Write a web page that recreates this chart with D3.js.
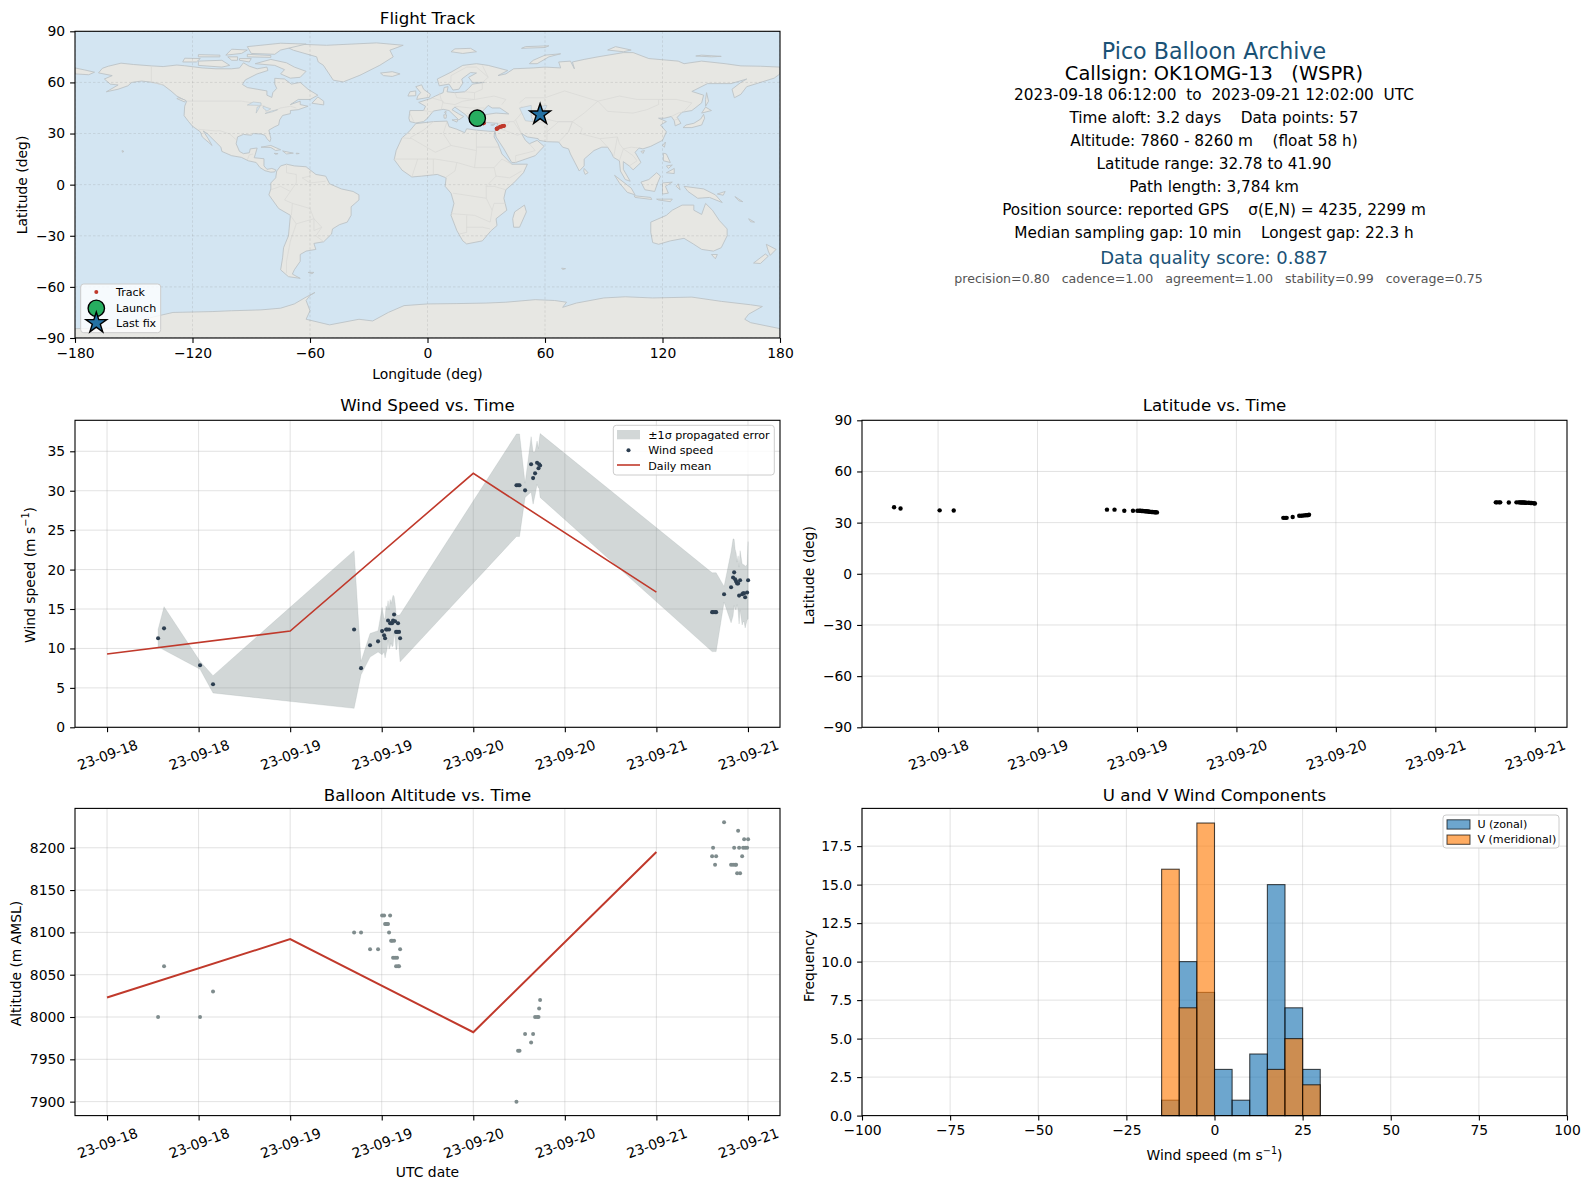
<!DOCTYPE html>
<html><head><meta charset="utf-8">
<script src="https://cdn.jsdelivr.net/npm/d3@7"></script>
<style>
html,body{margin:0;padding:0;background:#fff}
svg{display:block}
text{font-family:"DejaVu Sans",sans-serif;fill:#000;white-space:pre}
</style></head><body><svg id="c" width="1590" height="1189"></svg>
<script>
// ---------- data ----------
const hoursSinceStart=[6.69,7.47,12.19,13.89,
32.38,33.29,34.47,35.52,36.05,36.31,36.44,36.57,36.70,36.83,36.96,37.10,37.23,37.36,37.49,37.62,37.75,37.88,38.01,38.14,38.27,38.41,
53.66,53.87,54.06,54.79,55.58,55.84,56.10,56.36,56.55,56.63,56.76,
79.30,79.43,79.69,79.83,80.87,81.79,82.05,82.19,82.32,82.45,82.58,82.71,82.84,82.97,83.24,83.37,83.50,83.63,83.89,84.02];
const windSpeed=[11.3,12.55,7.86,5.45,
12.4,7.5,10.4,10.9,12.2,11.67,11.3,12.4,12.4,13.55,12.4,13.2,13.2,13.2,13.55,14.3,13.45,12.1,12.1,13.2,12.1,11.3,
30.7,30.7,30.7,30.05,33.35,31.6,32.2,33.55,32.85,33.35,33.2,
14.6,14.6,14.6,14.6,16.87,17.75,19.0,19.65,18.77,18.5,18.25,18.25,16.7,18.65,16.87,17.0,17.0,16.5,17.1,18.65];
const windSigma=[1.1,2.75,0.5,1.1,
10.0,0.85,1.5,1.35,3.0,2.1,2.5,3.0,2.5,2.5,2.5,3.0,2.5,3.0,3.2,2.3,2.3,2.3,2.1,1.0,2.1,3.0,
6.5,6.5,6.5,0.9,3.5,3.3,2.75,2.75,2.5,3.0,4.05,
5.0,5.0,5.0,5.0,1.0,4.5,4.9,4.2,3.8,3.6,2.7,3.5,3.6,3.75,3.9,3.6,3.6,3.9,3.5,4.9];
const altitude=[8000,8060,8000,8030,
8100,8100,8080,8080,8120,8120,8110,8110,8110,8110,8100,8120,8090,8090,8070,8090,8070,8060,8070,8060,8060,8080,
7900,7960,7960,7980,7970,7980,8000,8000,8000,8010,8020,
8190,8200,8180,8190,8230,8180,8180,8200,8180,8180,8170,8220,8200,8170,8190,8200,8210,8200,8200,8210];
const latitude=[39.0,38.3,37.2,37.1,
37.6,37.6,37.0,37.0,37.0,36.95,36.9,36.85,36.8,36.75,36.7,36.65,36.6,36.5,36.4,36.3,36.25,36.2,36.15,36.1,36.05,36.0,
32.8,32.8,32.8,33.3,34.0,34.0,34.2,34.3,34.4,34.4,34.6,
41.9,41.9,41.9,41.9,41.8,41.9,41.9,41.9,41.8,41.8,41.8,41.8,41.7,41.7,41.7,41.6,41.5,41.5,41.4,41.2];
const longitude=[25.4,25.6,25.8,26.0,
26.2,26.4,26.5,26.6,26.8,26.9,27.0,27.2,27.3,27.4,27.6,27.7,27.8,27.9,28.0,28.1,28.2,28.3,28.4,28.5,28.6,28.7,
35.3,35.4,35.5,36.0,37.0,37.4,37.8,38.2,38.5,38.8,39.1,
55.0,55.1,55.2,55.3,55.5,55.7,55.8,55.9,56.0,56.1,56.2,56.3,56.4,56.5,56.7,56.8,56.9,57.0,57.2,57.5];
const dailyHours=[0,24,48,72];
const dailyWind=[9.3,12.2,32.2,17.15];
const dailyAlt=[8023,8092,7982,8195];
const histEdges=[-15,-10,-5,0,5,10,15,20,25,30];
const uCounts=[1,10,8,3,1,4,15,7,3];
const vCounts=[16,7,19,0,0,0,3,5,2];
const lonTicks=[-180,-120,-60,0,60,120,180];
const latTicks=[-90,-60,-30,0,30,60,90];
const windTicks=[0,5,10,15,20,25,30,35];
const altTicks=[7900,7950,8000,8050,8100,8150,8200];
const histYTicks=[0,2.5,5,7.5,10,12.5,15,17.5];
const histXTicks=[-100,-75,-50,-25,0,25,50,75,100];
const dateTickHours=[0,12,24,36,48,60,72,84];
const infoLines=[
 ["Pico Balloon Archive",51,22.2,"#1a5276"],
 ["Callsign: OK1OMG-13   (WSPR)",73.5,19.4,"#000"],
 ["2023-09-18 06:12:00  to  2023-09-21 12:02:00  UTC",94.5,15.3,"#000"],
 ["Time aloft: 3.2 days    Data points: 57",118,15.3,"#000"],
 ["Altitude: 7860 - 8260 m    (float 58 h)",141,15.3,"#000"],
 ["Latitude range: 32.78 to 41.90",163.5,15.3,"#000"],
 ["Path length: 3,784 km",186.5,15.3,"#000"],
 ["Position source: reported GPS    σ(E,N) = 4235, 2299 m",209.5,15.3,"#000"],
 ["Median sampling gap: 10 min    Longest gap: 22.3 h",232.5,15.3,"#000"],
 ["Data quality score: 0.887",257.5,18,"#1a5276"],
 ["precision=0.80   cadence=1.00   agreement=1.00   stability=0.99   coverage=0.75",278,12.6,"#555"]
];
// Hand-approximated coastlines (lon,lat)
const landPolygons=[
[[-168,65.6],[-166,68.3],[-163,69.5],[-156.5,71.3],[-150,70.5],[-141,69.7],[-135,69.3],[-128,70.2],[-124,69.8],[-115,68.5],[-108,68],[-100,68],[-96,68.5],[-94,71.5],[-91,69.5],[-87,68],[-82,69],[-81.5,67],[-87,65],[-93,61.5],[-94.5,58.8],[-92,57],[-87,56],[-82,55],[-82,52.5],[-79.5,51.2],[-79,54],[-77,56.5],[-78,59],[-78,62.4],[-73,62],[-69.5,59],[-65,60],[-61,56],[-56,52.5],[-60,50],[-66,50],[-70,47],[-65,49],[-65,47],[-61,46],[-66,44],[-70,43.5],[-70,41.7],[-74,40.6],[-75.5,38],[-76,35],[-78,34],[-81,32],[-80,27],[-80.5,25.2],[-82,27],[-83,29],[-85,29.7],[-89,30],[-90,29],[-94,29.5],[-97,28],[-97.7,24],[-96,19.5],[-94,18.2],[-91,18.7],[-90.5,21],[-87,21.5],[-88,17.5],[-88.5,15.8],[-83.5,15.2],[-83.5,11],[-82,9],[-79.5,9.5],[-77.5,8.7],[-78,7.5],[-80,7.3],[-83,8.2],[-85.5,10],[-87.5,13],[-91.5,14],[-95,16],[-100,17],[-105,19.5],[-105.5,22],[-109,26],[-112.5,30],[-114.5,31.5],[-112,27],[-110,23],[-112,25],[-115,28],[-116,31],[-120,34.3],[-122,37],[-124.3,40.5],[-124,46],[-123,49],[-128,52],[-131,55],[-135,58.5],[-140,60],[-146,60.8],[-151,60],[-153,58],[-158,56],[-164,54.5],[-158,58.5],[-162,59],[-165,62],[-161,64],[-168,65.6]],
[[-71.9,80.8],[-65.1,82.4],[-51.5,81.8],[-26,83.2],[-12.4,81.8],[-19.2,78.9],[-17.5,75],[-24.3,70.1],[-34.5,64.2],[-43,60.3],[-48.1,61.3],[-53.2,70.1],[-55.8,72],[-56.6,75],[-68.5,78.9]],
[[-80,73.5],[-72,71.5],[-68,69],[-62,66.5],[-65,63],[-70,62.5],[-75,65],[-73,67.5],[-78,70],[-88,71],[-80,73.5]],
[[-117,70],[-105,69],[-101,70],[-105,73],[-117,72.5],[-117,70]],
[[-125,72],[-118,72],[-116,74],[-124,74.2]],
[[-90,77],[-78,76.5],[-75,79],[-62,82.5],[-75,83],[-92,81],[-90,77]],
[[-92,75],[-80,74.7],[-80,75.8],[-92,76.5]],
[[-117,75],[-106,75],[-106,76],[-117,76.3]],
[[-96,73],[-91,72],[-90,74],[-96,74]],
[[-100,73],[-97,73],[-97,75],[-102,75]],
[[-103,76],[-95,77],[-92,79],[-100,79.5]],
[[-59,47.8],[-53,46.8],[-53,49],[-56,51.5],[-59,47.8]],
[[-128,50.5],[-124,48.5],[-123.5,49.5],[-127,51]],
[[-85,22],[-80,23],[-75,20.5],[-77.5,20],[-80,21.8],[-85,22]],
[[-74,19.8],[-68.5,18.5],[-72,18],[-74,19.8]],
[[-67,18.5],[-65.5,18.3],[-67,18]],
[[-78.3,18.4],[-76.3,18.2],[-77.5,17.8]],
[[-156,20],[-155,19.5],[-155.8,19]],
[[-180,68.5],[-175,67.3],[-170,66],[-173,64.5],[-180,65]],
[[-77,8],[-75,11],[-72,12],[-68,11],[-62,10.5],[-57,6],[-52,5],[-50,0.5],[-44,-2.5],[-38,-4],[-35,-6],[-35,-9],[-39,-13],[-39,-18],[-41,-22],[-45,-23.5],[-48.5,-26],[-49,-29],[-53,-33.5],[-58,-34.5],[-57,-38],[-62,-39],[-65,-41],[-65,-45],[-68,-50],[-69,-52.5],[-65,-55],[-71,-54],[-75,-50],[-74,-43],[-73.5,-37],[-71,-30],[-70,-18],[-76,-14],[-81,-6],[-80,-2.5],[-80,1],[-77.5,4],[-77,8]],
[[-61,-51.5],[-58,-51.5],[-59,-52.3]],
[[-6,35.8],[3,37],[10,37.3],[11,34],[15,32.5],[19,30.5],[20,32.8],[25,32],[32,31.3],[34.3,31.3],[34,28],[36,24],[38,18],[43,12],[51,12],[49,7],[44,1],[40,-3],[39,-8],[40.5,-15],[35,-20],[35.5,-24],[32.5,-27],[28,-33],[20,-34.8],[18,-33],[15,-27],[12,-18],[13.5,-11],[12,-5],[9,-1],[9.5,4],[5,6],[-3,5],[-8,4.5],[-13,8.5],[-17,14.7],[-16,20],[-13,27.5],[-9.5,31],[-6,35.8]],
[[49.5,-12],[50.5,-16],[47,-25],[44,-25],[43.5,-20],[44.5,-16],[49.5,-12]],
[[-9,37],[-9.5,39],[-9,43.5],[-2,43.5],[-1,46],[-4.5,48.3],[1.5,50.5],[4,52],[8,54],[8.5,57],[10.5,57.5],[10,54.5],[14,54],[19,54.5],[21,56.5],[23,59],[29,60],[23,60],[21,63],[25,65.5],[22,65.8],[17.5,62],[18,59.5],[16,56],[13,55.5],[11,59],[6,58],[5,62],[12,66],[18,70],[25,71],[31,70],[41,67],[36,64],[40,65],[44,68],[54,68.5],[60,69],[68,68.5],[67,72],[73,72.5],[75,68],[74,72],[80,73.5],[87,75],[100,77.5],[105,77.5],[113,74],[128,72.5],[131,71],[140,72.5],[152,71],[160,69.7],[170,69.5],[180,69],[180,65],[177,62.5],[170,60],[163,57.5],[160,53],[156.7,51],[155.5,56],[160,60],[163,62],[155,59.3],[143,59.3],[135,54.7],[141,52.5],[140,48],[135,43.5],[130,42.5],[127.5,39.5],[129.4,36],[126.5,34.5],[126,37.5],[124.5,40],[121,39],[118,39],[122,37],[119,35],[122,31],[120,26],[114,22.5],[110,21],[108,21.5],[106,19],[109,13],[105,8.7],[103,11],[100,13.5],[100,9],[103.5,2],[101,3],[98.5,8],[98,14],[95,16],[94,18.5],[92,22],[89,22],[85,20],[80,15],[80,11],[77.5,8],[73,18],[72,21],[69,22],[67,25],[61,25.2],[57,26],[56.5,27],[51,28],[48,30],[50,26],[52,24],[56,26],[59.5,22.5],[55,17],[45,13],[43,13],[39,21],[35,28],[34.5,31.5],[36,36],[30,36.5],[27,37],[26.5,40],[29,41],[35,42],[41.5,41.5],[37,45],[33,45],[31,46.5],[28,43],[26,40.8],[23,40.5],[24,38],[22.5,36.6],[19.5,41],[14,45.5],[12.5,44],[16,41.5],[18.5,40],[16,38],[11,43.5],[8,44.2],[3,43.2],[0,39],[-2,37],[-6,36.2],[-9,37]],
[[-5.5,50],[1,51.3],[1.5,53],[-2,56],[-3,58.6],[-6,57.5],[-3.5,54],[-5,52],[-5.5,50]],
[[-10,52],[-6,52.2],[-6,55],[-9,54.5]],
[[-24,65.5],[-18,66.3],[-14,65],[-18,63.5],[-22.5,64]],
[[12,78],[18,77],[25,78],[22,80],[14,79.7]],
[[52,71],[56,71],[62,75],[68,76.8],[60,76],[54,73]],
[[48,80],[60,80.5],[62,81.5],[50,81]],
[[92,79],[100,78],[104,79],[96,81]],
[[137,75.5],[145,75],[150,75.3],[140,76]],
[[130.5,33.5],[135,33.5],[140,35],[141.5,39],[141,41.3],[139.5,38.5],[136,36],[132,35],[130.5,33.5]],
[[140,42],[145,43.5],[142,45.5]],
[[142,46],[143.5,49],[142.5,54],[142,50]],
[[120,23],[121.5,25],[121,22]],[[109,19.5],[110.8,20],[110,18.3]],
[[80,9.5],[82,7],[80.5,6],[79.8,8]],
[[95.5,5.5],[104,-2],[106,-6],[102,-4.5],[98,1]],
[[105.5,-6.5],[114,-7.5],[114.5,-8.7],[106,-7.5]],
[[109,1.5],[113,3],[117,7],[119,5],[117.5,1],[116,-4],[111,-3],[109,1.5]],
[[120,-5.5],[120,1],[125,1.5],[121.5,-1],[123,-5]],
[[120.5,18.5],[122,18],[124,13],[120.5,14]],
[[122,7],[126,9.5],[126,6.5]],[[122,11],[125,11.5],[123,9.5]],
[[131,-1],[141,-2.5],[147,-6],[150.5,-10.5],[144,-7.5],[138,-8],[133,-4],[131,-1]],
[[148,-5.5],[152,-4],[151,-6.2]],[[157,-7],[161,-10],[159,-9.5]],
[[127,-1],[129,-3],[128,0.5]],[[117,-8.5],[125,-8.5],[124,-10],[118,-9]],
[[114,-22],[122,-18],[125,-15],[130,-12],[136,-12],[136,-15],[140,-17.5],[142,-11],[145.5,-15],[149,-21],[153,-26],[153,-30],[150,-37],[146,-39],[140,-38],[136,-35],[131,-31.5],[124,-33],[118,-35],[115,-34],[114,-28],[114,-22]],
[[145,-41],[148,-41],[147,-43.5]],
[[173,-35],[178,-38],[175,-41.5],[174,-39]],
[[172.5,-40.7],[174,-42],[170,-46.3],[166.5,-46]],
[[164,-20],[167,-22],[165,-21.8]],[[68.5,-49],[70.5,-49.3],[69,-49.8]],
[[12.5,38],[15.5,38.2],[15,36.7]],[[8.3,41],[9.7,41],[9.5,39],[8.5,39]],[[8.7,42.6],[9.5,43],[9.3,41.5]],
[[23.5,35.5],[26.3,35.2],[24,35]],[[32.3,35],[34.5,35.6],[33.5,34.7]],
[[-180,-84.5],[-150,-84],[-145,-79],[-130,-75],[-110,-74.5],[-100,-74],[-85,-73.5],[-75,-72.5],[-68,-70],[-62,-66],[-57.5,-63.3],[-60,-65],[-62,-68],[-60,-74],[-62,-79],[-50,-82.3],[-35,-79],[-28,-80],[-20,-75],[-12,-71],[0,-70],[15,-69.8],[30,-69.5],[40,-69],[55,-67.5],[65,-68],[71,-69],[69,-72],[76,-69.5],[90,-66.5],[101,-65.8],[115,-66.5],[135,-66],[150,-68.5],[165,-70.5],[171,-71.5],[164,-76],[162,-79],[165,-81],[180,-84.5],[180,-90],[-180,-90]]
];
const inlandWater=[
[[47,45],[53,46.5],[53,40],[54,37],[50,37.5],[49,40],[47,45]],
[[-92,46.7],[-85,46.5],[-85,48],[-89,48.5]],[[-87.5,42],[-85.5,46],[-87,45.5]],[[-84,46],[-80,44.5],[-82,43.2],[-84,45]],
[[-83,41.7],[-79,42.8],[-76.5,44],[-79.5,43.3]],[[58,46],[61,46.5],[60,44],[58,44.5]]
];
const borderLines=[
[[-123,49],[-95,49],[-89,48],[-83,46],[-82.5,42.5],[-79,43],[-75,45],[-70,46],[-67,45]],
[[-141,69.7],[-141,60],[-135,58.5]],
[[-117,32.5],[-108,31.5],[-106,31.7],[-101,29.7],[-97.3,26]],
[[-92,14.5],[-91,17.5],[-89,18]],
[[-72,12],[-72,7],[-67,6],[-67,1],[-70,-4]],[[-60,8],[-60,5],[-64,4],[-60,1],[-52,2]],
[[-80,-3],[-75,-1],[-70,-4],[-73,-9],[-69,-11],[-69.5,-18]],
[[-69,-11],[-60,-14],[-58,-20],[-54,-25],[-57,-30],[-53,-33.5]],
[[-70,-18],[-67,-23],[-70,-33],[-72,-45],[-72,-52]],[[-67,-23],[-58,-20]],[[-58,-20],[-58,-27],[-54,-25]],
[[-9,27.5],[-2,32],[3,37]],[[-13,27.5],[-8,27],[-5,25],[4,19],[12,23],[25,20],[25,32]],[[10,37],[8,30],[12,23]],
[[25,22],[37,22]],[[25,20],[24,10],[15,13],[14,8],[9,4]],[[-17,15],[-5,15],[4,15],[15,13]],[[24,10],[34,10],[35,5],[42,4],[48,8]],
[[-8,4.5],[-5,15]],[[3,6],[3,15]],[[34,10],[38,15],[43,12]],[[13,-5],[30,-8],[30,-1],[35,5]],[[40,-3],[34,-1],[30,-1]],
[[12,-17],[24,-18],[32,-22],[33,-15],[30,-8]],[[40,-11],[34,-11],[33,-15]],[[20,-18],[20,-28],[16,-29]],[[20,-25],[28,-25],[32,-26]],
[[-2,43.5],[3,42.5]],[[-9,42],[-7,37]],[[2,51],[8,49],[7,44]],[[6,54],[7,50],[8,48],[14,47],[18,49],[24,50],[24,54],[19,54.5]],
[[14,54],[15,51],[24,50]],[[24,54],[28,56],[28,60]],[[24,50],[34,52],[40,50],[38,47]],[[14,46],[22,45],[29,45]],[[26,41],[22,41],[20,42]],
[[12,60],[12,64],[20,69],[25,69],[31,63],[28,60]],[[28,70],[31,63]],
[[48,42],[45,38],[44,37],[42,37],[36,36]],[[42,37],[39,32],[36,33]],[[39,32],[46,29],[48,30]],[[45,38],[48,30]],
[[44,37],[48,30]],[[52,24],[55,20],[52,19],[45,17],[45,13]],
[[61,25.2],[61,31],[61,36],[54,37]],[[61,31],[67,37],[74,37],[72,31],[67,25]],[[72,31],[74,37],[79,33],[78,30],[88,27],[97,28],[95,16]],[[88,27],[92,22]],[[97,28],[98,24],[100,21],[104,22],[108,21.5]],
[[100,21],[105,17],[107,14],[103,11]],[[100,21],[98,14]],
[[48,46],[52,41],[66,37],[74,37],[80,42],[87,49],[70,55],[60,51],[50,51],[47,48]],
[[87,49],[98,52],[107,50],[118,50],[127,50],[135,48],[131,43]],[[87,49],[92,43],[105,42],[112,44],[118,47],[118,50]],[[124.5,40],[128,42],[130,42.5]],[[126,38],[128.5,38.5]]
];
// ---------- helpers ----------
const svg=d3.select("#c");
const X1=75,X2=780,X3=862,X4=1567;
const Y1=31.3,Y2=338,Y3=420.3,Y4=727.3,Y5=808.4,Y6=1115.6;
const gridCol="#b0b0b0",F=13.9;
const t=h=>new Date(Date.UTC(2023,8,18)+h*3600e3);
function ax(x0,x1,y0,y1,xs,ys,xt,yt,xf,yf,dateAxis,id,grid=true){
  const g=svg.append("g").attr("id",id);
  if(grid){
    const gr=g.append("g").attr("class","grid").attr("fill","none").attr("stroke",gridCol).attr("stroke-opacity",.36).attr("stroke-width",1);
    gr.selectAll(".v").data(xt).join("line").attr("x1",xs).attr("x2",xs).attr("y1",y0).attr("y2",y1);
    gr.selectAll(".h").data(yt).join("line").attr("y1",ys).attr("y2",ys).attr("x1",x0).attr("x2",x1);
  }
  const marks=g.append("g");
  g.finish=function(){
    const ga=g.append("g").attr("transform",`translate(0,${y1})`).call(d3.axisBottom(xs).tickValues(xt).tickFormat(xf).tickSizeOuter(0).tickSize(4.9).tickPadding(4.9));
    const gb=g.append("g").attr("transform",`translate(${x0},0)`).call(d3.axisLeft(ys).tickValues(yt).tickFormat(yf).tickSizeOuter(0).tickSize(4.9).tickPadding(4.9));
    [ga,gb].forEach(a=>{a.select(".domain").remove();a.selectAll("line").attr("stroke","#000").attr("stroke-width",1.1);
      a.selectAll("text").attr("font-size",F).attr("font-family",'"DejaVu Sans"').attr("fill","#000");});
    if(dateAxis) ga.selectAll("text").attr("text-anchor","middle").attr("dy",null).attr("y",0).attr("dominant-baseline","central").attr("transform","translate(0,27.5) rotate(-20)");
    g.append("rect").attr("x",x0).attr("y",y0).attr("width",x1-x0).attr("height",y1-y0).attr("fill","none").attr("stroke","#000").attr("stroke-width",1.1);
  };
  g.marks=marks;
  return g;
}
function title(s,x,y){svg.append("text").attr("x",x).attr("y",y).attr("text-anchor","middle").attr("dominant-baseline","central").attr("font-size",16.67).text(s);}
function xlabel(s,x,y,sup){const e=svg.append("text").attr("x",x).attr("y",y).attr("text-anchor","middle").attr("dominant-baseline","central").attr("font-size",F);fill(e,s,sup);}
function ylabel(s,x,y,sup){const e=svg.append("text").attr("transform",`translate(${x},${y}) rotate(-90)`).attr("text-anchor","middle").attr("dominant-baseline","central").attr("font-size",F);fill(e,s,sup);}
function fill(e,s,sup){ if(!sup){e.text(s);return;}
  e.append("tspan").text(s);
  e.append("tspan").attr("dy",-5).attr("font-size",F*.7).text("−1");
  e.append("tspan").attr("dy",5).text(")");
}
function legendBox(x,y,w,h){svg.append("rect").attr("x",x).attr("y",y).attr("width",w).attr("height",h).attr("rx",3).attr("fill","#fff").attr("fill-opacity",.8).attr("stroke","#ccc").attr("stroke-width",1);}
function legText(s,x,y,fs=11.1){svg.append("text").attr("x",x).attr("y",y).attr("dominant-baseline","central").attr("font-size",fs).text(s);}
const fmtDate=d3.utcFormat("%y-%m-%d");
const dateTicks=dateTickHours.map(t);

// ---------- map ----------
const lonS=d3.scaleLinear().domain([-180,180]).range([X1,X2]);
const latS=d3.scaleLinear().domain([-90,90]).range([Y2,Y1]);
const m=ax(X1,X2,Y1,Y2,lonS,latS,lonTicks,latTicks,d3.format("d"),d3.format("d"),false,"map",false);
svg.append("defs").append("clipPath").attr("id","mapclip").append("rect").attr("x",X1).attr("y",Y1).attr("width",X2-X1).attr("height",Y2-Y1);
const mg=m.marks.attr("clip-path","url(#mapclip)");
mg.append("rect").attr("x",X1).attr("y",Y1).attr("width",X2-X1).attr("height",Y2-Y1).attr("fill","#d3e5f2");
const geoStraight=d3.line().x(d=>lonS(d[0])).y(d=>latS(d[1]));
mg.append("g").selectAll("path").data(landPolygons).join("path").attr("d",d=>geoStraight(d)+"Z").attr("fill","#e7e7e3").attr("stroke","#bcc3c6").attr("stroke-width",.9).attr("stroke-linejoin","round");
mg.append("g").selectAll("path").data(borderLines).join("path").attr("d",geoStraight).attr("fill","none").attr("stroke","#d8d8d6").attr("stroke-width",.7);
mg.append("g").selectAll("path").data(inlandWater).join("path").attr("d",d=>geoStraight(d)+"Z").attr("fill","#d3e5f2").attr("stroke","#bcc3c6").attr("stroke-width",.6);
const mgrid=mg.append("g").attr("stroke","#8a8a8a").attr("stroke-opacity",.3).attr("stroke-width",.7).attr("stroke-dasharray","2.5,2");
mgrid.selectAll(".v").data(lonTicks).join("line").attr("x1",lonS).attr("x2",lonS).attr("y1",Y1).attr("y2",Y2);
mgrid.selectAll(".h").data(latTicks).join("line").attr("y1",latS).attr("y2",latS).attr("x1",X1).attr("x2",X2);
mg.append("g").selectAll("circle").data(hoursSinceStart).join("circle").attr("cx",(d,i)=>lonS(longitude[i])).attr("cy",(d,i)=>latS(latitude[i])).attr("r",2).attr("fill","#c0392b");
const starPath=d3.symbol().type(d3.symbolStar).size(135);
mg.append("circle").attr("cx",lonS(longitude[0])).attr("cy",latS(latitude[0])).attr("r",8.2).attr("fill","#27ae60").attr("stroke","#000").attr("stroke-width",1.4);
const lastI=longitude.length-1;
mg.append("path").attr("d",starPath).attr("transform",`translate(${lonS(longitude[lastI])},${latS(latitude[lastI])})`).attr("fill","#2471a3").attr("stroke","#000").attr("stroke-width",1.4);
m.finish();
legendBox(80.7,284,80,48.7);
svg.append("circle").attr("cx",96.3).attr("cy",292).attr("r",2).attr("fill","#c0392b");
svg.append("circle").attr("cx",96.3).attr("cy",308.3).attr("r",8.2).attr("fill","#27ae60").attr("stroke","#000").attr("stroke-width",1.4);
svg.append("path").attr("d",starPath).attr("transform","translate(96.3,323)").attr("fill","#2471a3").attr("stroke","#000").attr("stroke-width",1.4);
legText("Track",116,292);legText("Launch",116,308.3);legText("Last fix",116,323.3);
title("Flight Track",427.5,18);
xlabel("Longitude (deg)",427.5,373.5);
ylabel("Latitude (deg)",22,185);

// ---------- info block ----------
svg.append("g").selectAll("text").data(infoLines).join("text").attr("x",(d,i)=>i===10?1218.5:1214).attr("y",d=>d[1]).attr("text-anchor","middle").attr("dominant-baseline","central").attr("font-size",d=>d[2]).style("fill",d=>d[3]).text(d=>d[0]);

// ---------- wind ----------
const tWide=d3.scaleUtc().domain([t(-4.2),t(88.2)]).range([X1,X2]);
const wy=d3.scaleLinear().domain([0,38.93]).range([Y4,Y3]);
const w=ax(X1,X2,Y3,Y4,tWide,wy,dateTicks,windTicks,fmtDate,d3.format("d"),true,"wind");
w.marks.append("path").datum(hoursSinceStart).attr("d",d3.area().x(h=>tWide(t(h))).y0((h,i)=>wy(windSpeed[i]-windSigma[i])).y1((h,i)=>wy(windSpeed[i]+windSigma[i]))).attr("fill","#7f8c8d").attr("fill-opacity",.35).attr("stroke","#7f8c8d").attr("stroke-opacity",.15);
w.marks.selectAll("circle").data(hoursSinceStart).join("circle").attr("cx",h=>tWide(t(h))).attr("cy",(h,i)=>wy(windSpeed[i])).attr("r",2.05).attr("fill","#2c3e50");
w.marks.append("path").datum(dailyHours).attr("d",d3.line().x(h=>tWide(t(h))).y((h,i)=>wy(dailyWind[i]))).attr("fill","none").attr("stroke","#c0392b").attr("stroke-width",1.6);
w.finish();
legendBox(613.3,425.3,161,49.7);
svg.append("rect").attr("x",617).attr("y",430).attr("width",23).attr("height",9.3).attr("fill","#7f8c8d").attr("fill-opacity",.35);
svg.append("circle").attr("cx",628.5).attr("cy",450.3).attr("r",2.05).attr("fill","#2c3e50");
svg.append("line").attr("x1",617).attr("x2",640).attr("y1",465).attr("y2",465).attr("stroke","#c0392b").attr("stroke-width",1.6);
legText("±1σ propagated error",648.3,435.3);legText("Wind speed",648.3,450.3);legText("Daily mean",648.3,466);
title("Wind Speed vs. Time",427.5,405.6);
ylabel("Wind speed (m s",29.5,575,true);

// ---------- latitude ----------
const tNarrow=d3.scaleUtc().domain([t(6.69-3.87),t(84.02+3.87)]).range([X3,X4]);
const ly=d3.scaleLinear().domain([-90,90]).range([Y4,Y3]);
const l=ax(X3,X4,Y3,Y4,tNarrow,ly,dateTicks.slice(1),latTicks,fmtDate,d3.format("d"),true,"lat");
l.marks.selectAll("circle").data(hoursSinceStart).join("circle").attr("cx",h=>tNarrow(t(h))).attr("cy",(h,i)=>ly(latitude[i])).attr("r",2.2).attr("fill","#000");
l.finish();
title("Latitude vs. Time",1214.5,405.6);
ylabel("Latitude (deg)",809,575.5);

// ---------- altitude ----------
const ay=d3.scaleLinear().domain([7883.5,8246.5]).range([Y6,Y5]);
const a=ax(X1,X2,Y5,Y6,tWide,ay,dateTicks,altTicks,fmtDate,d3.format("d"),true,"alt");
a.marks.selectAll("circle").data(hoursSinceStart).join("circle").attr("cx",h=>tWide(t(h))).attr("cy",(h,i)=>ay(altitude[i])).attr("r",2).attr("fill","#7f8c8d");
a.marks.append("path").datum(dailyHours).attr("d",d3.line().x(h=>tWide(t(h))).y((h,i)=>ay(dailyAlt[i]))).attr("fill","none").attr("stroke","#c0392b").attr("stroke-width",2);
a.finish();
title("Balloon Altitude vs. Time",427.5,795);
xlabel("UTC date",427.5,1172);
ylabel("Altitude (m AMSL)",16,963.5);

// ---------- histogram ----------
const hx=d3.scaleLinear().domain([-100,100]).range([X3,X4]);
const hy=d3.scaleLinear().domain([0,19.95]).range([Y6,Y5]);
const h=ax(X3,X4,Y5,Y6,hx,hy,histXTicks,histYTicks,d3.format("d"),d3.format(".1f"),false,"hist");
function bars(counts,col){
  h.marks.append("g").selectAll("rect").data(counts.map((c,i)=>({c,i})).filter(d=>d.c>0)).join("rect")
   .attr("x",d=>hx(histEdges[d.i])).attr("width",d=>hx(histEdges[d.i+1])-hx(histEdges[d.i]))
   .attr("y",d=>hy(d.c)).attr("height",d=>hy(0)-hy(d.c))
   .attr("fill",col).attr("fill-opacity",.65).attr("stroke","#000").attr("stroke-opacity",.7).attr("stroke-width",1.1);
}
bars(uCounts,"#1f77b4");bars(vCounts,"#ff7f0e");
h.finish();
legendBox(1443,815,116,33);
[["U (zonal)","#1f77b4",824.4],["V (meridional)","#ff7f0e",839.6]].forEach(r=>{
  svg.append("rect").attr("x",1447).attr("y",r[2]-4.6).attr("width",23).attr("height",9.3).attr("fill",r[1]).attr("fill-opacity",.65).attr("stroke","#000").attr("stroke-opacity",.7);
  legText(r[0],1477.4,r[2]);
});
title("U and V Wind Components",1214.5,795);
xlabel("Wind speed (m s",1214.5,1155,true);
ylabel("Frequency",808.5,966);
</script></body></html>
